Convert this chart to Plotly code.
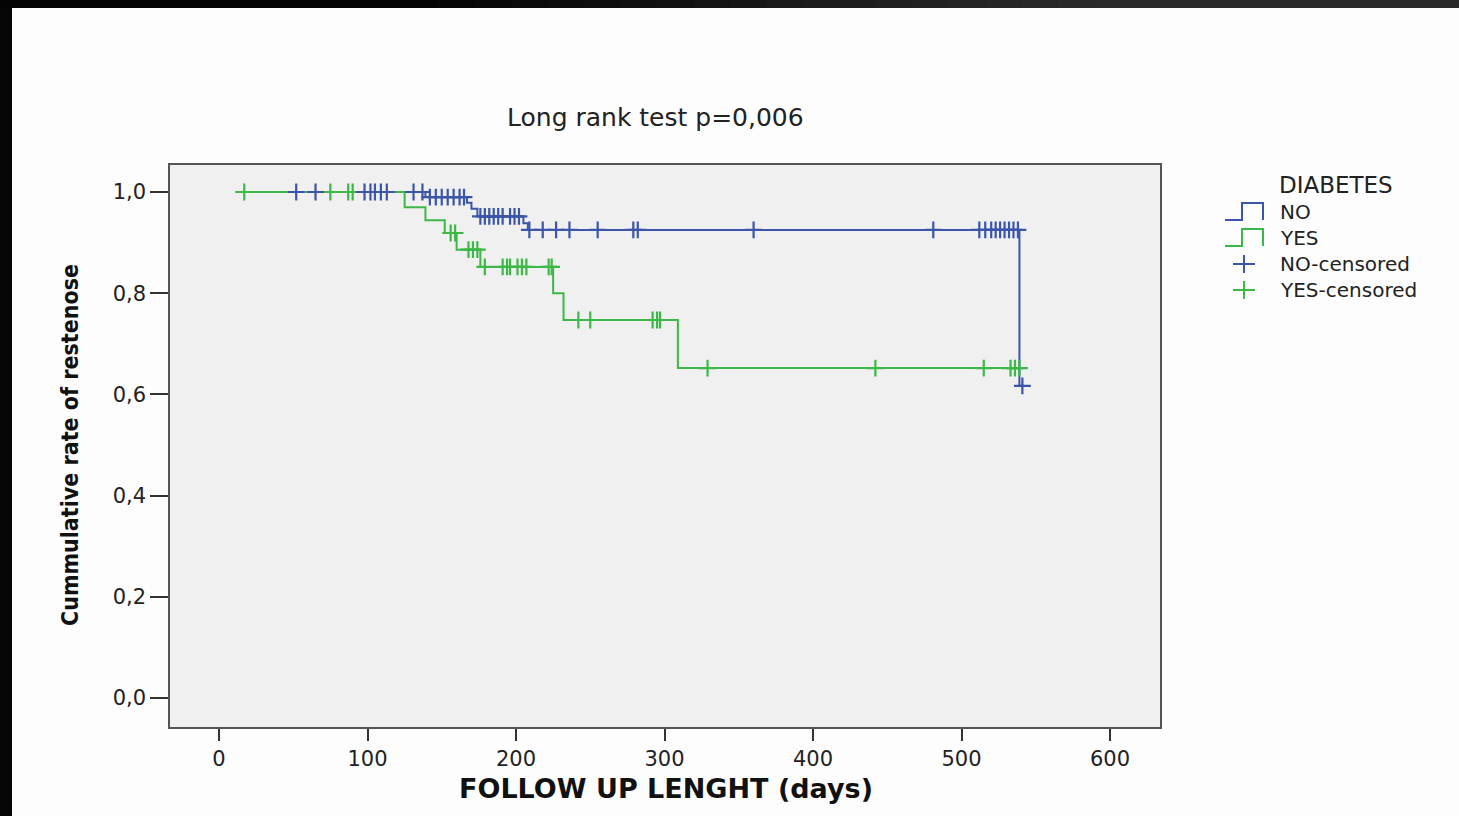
import plotly.graph_objects as go

# ---------------- data ----------------
NO_event_days = [139, 167, 170, 174, 205, 208, 539]
NO_surv = [0.990, 0.979, 0.967, 0.952, 0.938, 0.925, 0.617]
NO_censored_days = [52, 65, 98, 102, 105, 109, 113, 131, 137,
                    142, 146, 150, 154, 158, 162, 165,
                    176, 179, 182, 185, 188, 191, 196, 199, 202,
                    209, 218, 227, 236, 255, 279, 282, 360, 481,
                    512, 516, 520, 523, 526, 529, 532, 535, 538, 541]
NO_start_day = 17
NO_end_day = 542

YES_event_days = [125, 139, 152, 160, 176, 225, 232, 309]
YES_surv = [0.970, 0.944, 0.919, 0.886, 0.852, 0.800, 0.747, 0.652]
YES_censored_days = [17, 75, 87, 90, 156, 159, 168, 171, 174,
                     179, 191, 194, 196, 201, 204, 207, 222, 224,
                     242, 250, 292, 295, 297,
                     329, 442, 515, 533, 536, 539]
YES_start_day = 11
YES_end_day = 542

x_ticks = [0, 100, 200, 300, 400, 500, 600]
y_ticks = [0.0, 0.2, 0.4, 0.6, 0.8, 1.0]
y_ticktext = ["0,0", "0,2", "0,4", "0,6", "0,8", "1,0"]

BLUE = "#3b55a8"
GREEN = "#3cb846"

W, H = 1459, 816
L, R, T, B = 170, 1160, 165, 727  # plot area in pixels


def px(x):
    return (x - L) / (R - L)


def py(y):
    return (B - y) / (B - T)


def step_series(start_day, event_days, surv, end_day):
    xs = [start_day] + list(event_days) + [end_day]
    ys = [1.0] + list(surv) + [surv[-1]]
    return xs, ys


def surv_at(t, event_days, surv):
    s = 1.0
    for d, v in zip(event_days, surv):
        if d <= t:
            s = v
    return s


fig = go.Figure()

nx, ny = step_series(NO_start_day, NO_event_days, NO_surv, NO_end_day)
yx, yy = step_series(YES_start_day, YES_event_days, YES_surv, YES_end_day)

fig.add_trace(go.Scatter(x=nx, y=ny, mode="lines", line_shape="hv",
                         line=dict(color=BLUE, width=2), name="NO", showlegend=False))
fig.add_trace(go.Scatter(x=yx, y=yy, mode="lines", line_shape="hv",
                         line=dict(color=GREEN, width=2), name="YES", showlegend=False))

fig.add_trace(go.Scatter(x=YES_censored_days,
                         y=[surv_at(t, YES_event_days, YES_surv) for t in YES_censored_days],
                         mode="markers",
                         marker=dict(symbol="cross-thin", size=12,
                                     line=dict(color=GREEN, width=2.2)),
                         name="YES-censored", showlegend=False))
fig.add_trace(go.Scatter(x=NO_censored_days,
                         y=[surv_at(t, NO_event_days, NO_surv) for t in NO_censored_days],
                         mode="markers",
                         marker=dict(symbol="cross-thin", size=12,
                                     line=dict(color=BLUE, width=2.2)),
                         name="NO-censored", showlegend=False))

x0 = (L - 219) / 1.485
x1 = (R - 219) / 1.485
y1 = 1.0 + (192 - T) / 506
y0 = -(B - 698) / 506

fig.update_xaxes(range=[x0, x1], tickvals=x_ticks, ticktext=[str(v) for v in x_ticks],
                 showgrid=False, zeroline=False, showline=True, mirror=True,
                 linecolor="#555555", linewidth=1.5, ticks="outside", ticklen=12,
                 tickwidth=1.5, tickcolor="#333333",
                 tickfont=dict(family="DejaVu Sans", size=21, color="#222222"))
fig.update_yaxes(range=[y0, y1], tickvals=y_ticks, ticktext=y_ticktext,
                 showgrid=False, zeroline=False, showline=True, mirror=True,
                 linecolor="#555555", linewidth=1.5, ticks="outside", ticklen=18,
                 tickwidth=1.5, tickcolor="#333333",
                 tickfont=dict(family="DejaVu Sans", size=21, color="#222222"))

shapes = []
# dark frame: left bar and top bar darkening to black on the left
shapes.append(dict(type="rect", xref="paper", yref="paper", x0=px(0), x1=px(12),
                   y0=py(W), y1=py(0), fillcolor="#050505", line=dict(width=0), layer="above"))
n_seg = 40
for i in range(n_seg):
    xa = i * W / n_seg
    frac = max(0.0, (xa - 400) / (W - 400))
    g = int(4 + 38 * min(1.0, frac * 1.6))
    shapes.append(dict(type="rect", xref="paper", yref="paper",
                       x0=px(xa), x1=px(xa + W / n_seg + 1),
                       y0=py(8), y1=py(0), fillcolor=f"rgb({g},{g},{g})",
                       line=dict(width=0), layer="above"))


def step_icon(yc, color):
    yb, yt = yc + 9, yc - 8
    path = (f"M {px(1225)},{py(yb)} L {px(1242)},{py(yb)} L {px(1242)},{py(yt)} "
            f"L {px(1263)},{py(yt)} L {px(1263)},{py(yb)}")
    return dict(type="path", xref="paper", yref="paper", path=path,
                line=dict(color=color, width=2))


def cross_icon(yc, color):
    return [dict(type="line", xref="paper", yref="paper", x0=px(1233), x1=px(1255),
                 y0=py(yc), y1=py(yc), line=dict(color=color, width=2)),
            dict(type="line", xref="paper", yref="paper", x0=px(1244), x1=px(1244),
                 y0=py(yc - 9), y1=py(yc + 9), line=dict(color=color, width=2))]


shapes.append(step_icon(211, BLUE))
shapes.append(step_icon(237, GREEN))
shapes += cross_icon(264, BLUE)
shapes += cross_icon(290, GREEN)

annotations = [
    dict(text="Long rank test p=0,006", xref="paper", yref="paper",
         x=px(655), y=py(117), showarrow=False, xanchor="center", yanchor="middle",
         font=dict(family="DejaVu Sans", size=25, color="#222222")),
    dict(text="<b>FOLLOW UP LENGHT (days)</b>", xref="paper", yref="paper",
         x=px(666), y=py(788), showarrow=False, xanchor="center", yanchor="middle",
         font=dict(family="DejaVu Sans", size=27, color="#111111")),
    dict(text="<b>Cummulative rate of restenose</b>", xref="paper", yref="paper",
         x=px(70), y=py(445), showarrow=False, xanchor="center", yanchor="middle",
         textangle=-90,
         font=dict(family="Liberation Sans Narrow, DejaVu Sans Condensed, sans-serif",
                   size=23, color="#111111")),
    dict(text="DIABETES", xref="paper", yref="paper", x=px(1336), y=py(185),
         showarrow=False, xanchor="center", yanchor="middle",
         font=dict(family="DejaVu Sans", size=23, color="#222222")),
]
for label, yc in [("NO", 212), ("YES", 238), ("NO-censored", 264), ("YES-censored", 290)]:
    annotations.append(dict(text=label, xref="paper", yref="paper", x=px(1278), y=py(yc),
                            showarrow=False, xanchor="left", yanchor="middle",
                            font=dict(family="DejaVu Sans", size=20, color="#222222")))

fig.update_layout(
    width=W, height=H,
    margin=dict(l=L, r=W - R, t=T, b=H - B),
    paper_bgcolor="#fdfdfd", plot_bgcolor="#f0f0f0",
    showlegend=False,
    shapes=shapes, annotations=annotations,
)

fig.write_html("out.html")
